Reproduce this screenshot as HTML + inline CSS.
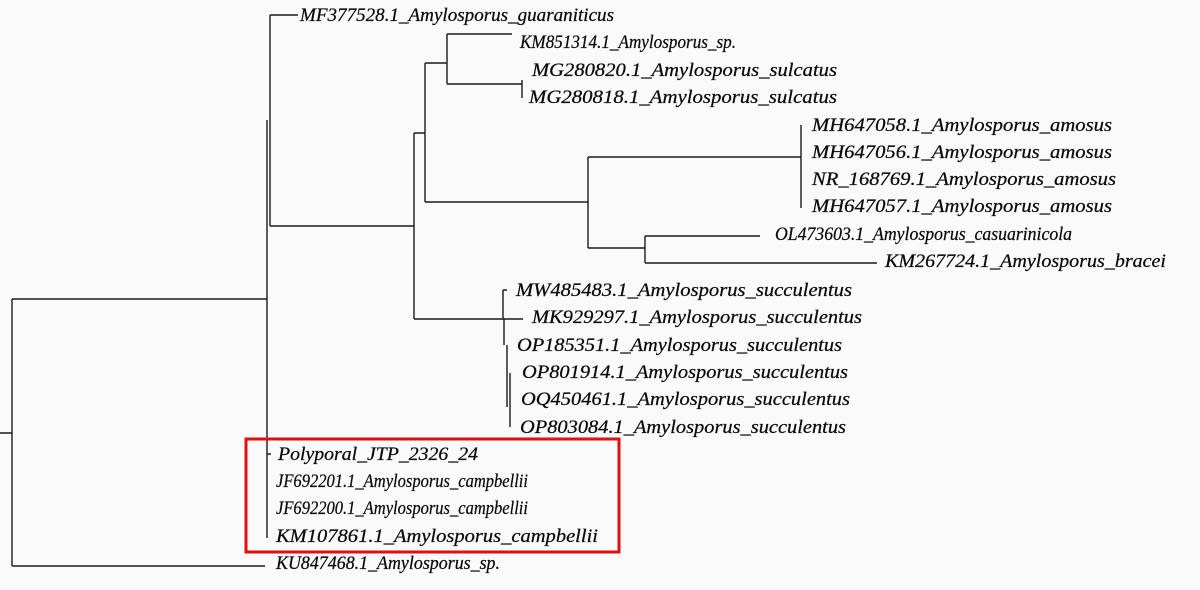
<!DOCTYPE html>
<html><head><meta charset="utf-8"><style>
html,body{margin:0;padding:0;background:#fafafa;}
svg{display:block;}
text{font-family:"Liberation Serif",serif;font-style:italic;font-size:19px;fill:#0a0a0a;stroke:#0a0a0a;stroke-width:0.25;}
</style></head><body>
<svg width="1200" height="590" xmlns="http://www.w3.org/2000/svg">
<rect width="1200" height="590" fill="#fafafa"/>
<g stroke="#1a1a1a" stroke-width="1.4" fill="none">
<path d="M0 433H12M12 299V566M12 299H267M12 566H265"/>
<path d="M267 120V538M267 454H271"/>
<path d="M270 15V226M270 15H298M270 226H414"/>
<path d="M414 133V319M414 133H425M425 63V202M425 63H447M447 34V84M447 34H512M447 84H522M522 80V98"/>
<path d="M425 202H588M588 157V248M588 157H801M801 125V208M588 248H645M645 236V263M645 236H760M645 263H877"/>
<path d="M414 319H503M503 290V319M503 290H507M503 319H523M504 319V345M507 345V407M510 373V427"/>
</g>
<rect x="246" y="439" width="373" height="113" fill="none" stroke="#e01010" stroke-width="3"/>
<g>
<text x="300" y="21" textLength="314" lengthAdjust="spacingAndGlyphs">MF377528.1_Amylosporus_guaraniticus</text>
<text x="520" y="48" textLength="216" lengthAdjust="spacingAndGlyphs">KM851314.1_Amylosporus_sp.</text>
<text x="532" y="76" textLength="305" lengthAdjust="spacingAndGlyphs">MG280820.1_Amylosporus_sulcatus</text>
<text x="529" y="103" textLength="308" lengthAdjust="spacingAndGlyphs">MG280818.1_Amylosporus_sulcatus</text>
<text x="812" y="131" textLength="300" lengthAdjust="spacingAndGlyphs">MH647058.1_Amylosporus_amosus</text>
<text x="812" y="158" textLength="300" lengthAdjust="spacingAndGlyphs">MH647056.1_Amylosporus_amosus</text>
<text x="812" y="185" textLength="304" lengthAdjust="spacingAndGlyphs">NR_168769.1_Amylosporus_amosus</text>
<text x="812" y="212" textLength="300" lengthAdjust="spacingAndGlyphs">MH647057.1_Amylosporus_amosus</text>
<text x="775" y="240" textLength="297" lengthAdjust="spacingAndGlyphs">OL473603.1_Amylosporus_casuarinicola</text>
<text x="885" y="267" textLength="281" lengthAdjust="spacingAndGlyphs">KM267724.1_Amylosporus_bracei</text>
<text x="516" y="296" textLength="336" lengthAdjust="spacingAndGlyphs">MW485483.1_Amylosporus_succulentus</text>
<text x="532" y="323" textLength="330" lengthAdjust="spacingAndGlyphs">MK929297.1_Amylosporus_succulentus</text>
<text x="517" y="351" textLength="325" lengthAdjust="spacingAndGlyphs">OP185351.1_Amylosporus_succulentus</text>
<text x="522" y="378" textLength="326" lengthAdjust="spacingAndGlyphs">OP801914.1_Amylosporus_succulentus</text>
<text x="521" y="405" textLength="329" lengthAdjust="spacingAndGlyphs">OQ450461.1_Amylosporus_succulentus</text>
<text x="520" y="433" textLength="326" lengthAdjust="spacingAndGlyphs">OP803084.1_Amylosporus_succulentus</text>
<text x="278" y="460" textLength="200" lengthAdjust="spacingAndGlyphs">Polyporal_JTP_2326_24</text>
<text x="276" y="487" textLength="252" lengthAdjust="spacingAndGlyphs">JF692201.1_Amylosporus_campbellii</text>
<text x="276" y="514" textLength="252" lengthAdjust="spacingAndGlyphs">JF692200.1_Amylosporus_campbellii</text>
<text x="276" y="542" textLength="322" lengthAdjust="spacingAndGlyphs">KM107861.1_Amylosporus_campbellii</text>
<text x="276" y="569" textLength="224" lengthAdjust="spacingAndGlyphs">KU847468.1_Amylosporus_sp.</text>
</g>
</svg>
</body></html>
